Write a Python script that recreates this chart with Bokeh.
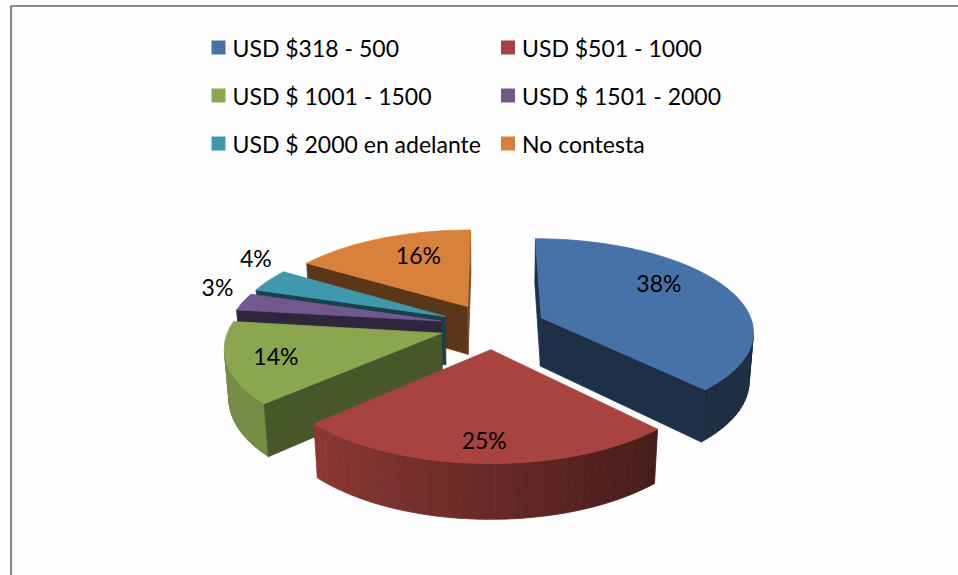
import numpy as np
from bokeh.plotting import figure
from bokeh.models import Range1d, ColumnDataSource
from bokeh.embed import file_html
from bokeh.resources import INLINE
from bokeh.core.properties import value

# ---------------- data ----------------
categories = ["USD $318 - 500", "USD $501 - 1000", "USD $ 1001 - 1500",
              "USD $ 1501 - 2000", "USD $ 2000 en adelante", "No contesta"]
percent = [38, 25, 14, 3, 4, 16]
colors = ["#4672A8", "#A8433F", "#8AA64F", "#71598F", "#3F98AE", "#D8813A"]

# ---------------- page / projection settings ----------------
W, H = 958, 575
CX, CY = 492.0, 325.5          # screen position of pie centre
SCALE = 212.0                  # pixels per pie radius
SIN_T, COS_T = 0.432, 0.902    # view elevation
PERSP = 0.1486                 # perspective strength (1/camera distance)
EXPLODE = 0.25                 # explosion distance (radius units)
DEPTH = 0.26                   # pie thickness (radius units)
CAM = np.array([0.0, -COS_T / PERSP, SIN_T / PERSP])
FONT = "Lato"


def project(X, Y, Z):
    X = np.asarray(X, float)
    Y = np.asarray(Y, float)
    Z = np.asarray(Z, float)
    w = 1.0 + (Y * COS_T - Z * SIN_T) * PERSP
    return CX + SCALE * X / w, CY - SCALE * (Y * SIN_T + Z * COS_T) / w


def shade(hexcol, f):
    h = hexcol.lstrip("#")
    r, g, b = (int(h[i:i + 2], 16) for i in (0, 2, 4))
    return "#%02x%02x%02x" % tuple(int(max(0, min(255, round(c * f)))) for c in (r, g, b))


def wall_factor(deg):
    return float(np.interp(deg % 360, [0, 135, 228, 360], [0.37, 0.40, 0.84, 0.88]))


def cut_factor(nx):
    return 0.42 + 0.15 * max(0.0, nx)


total = float(sum(percent))
bounds = np.concatenate([[0.0], np.cumsum(percent) / total]) * 2 * np.pi

slices = []
for i, pct in enumerate(percent):
    t1, t2 = bounds[i], bounds[i + 1]
    tm = 0.5 * (t1 + t2)
    ox, oy = EXPLODE * np.sin(tm), EXPLODE * np.cos(tm)
    nseg = max(4, int(np.degrees(t2 - t1) / 2))
    ths = np.linspace(t1, t2, nseg + 1)
    rx, ry = ox + np.sin(ths), oy + np.cos(ths)
    tx, ty = project(rx, ry, np.zeros_like(rx))
    bx, by = project(rx, ry, np.full_like(rx, -DEPTH))
    ax_t, ay_t = project(ox, oy, 0.0)
    ax_b, ay_b = project(ox, oy, -DEPTH)
    faces = []
    # outer curved wall (front-facing parts only)
    for j in range(nseg):
        thm = 0.5 * (ths[j] + ths[j + 1])
        nx, ny = np.sin(thm), np.cos(thm)
        px, py = ox + nx, oy + ny
        if nx * (CAM[0] - px) + ny * (CAM[1] - py) > 0:
            faces.append(([tx[j], tx[j + 1], bx[j + 1], bx[j]],
                          [ty[j], ty[j + 1], by[j + 1], by[j]],
                          shade(colors[i], wall_factor(np.degrees(thm)))))
    # radial cut faces
    for (n, k) in (((-np.cos(t1), np.sin(t1)), 0), ((np.cos(t2), -np.sin(t2)), -1)):
        if n[0] * (CAM[0] - ox) + n[1] * (CAM[1] - oy) > 0:
            faces.append(([float(ax_t), tx[k], bx[k], float(ax_b)],
                          [float(ay_t), ty[k], by[k], float(ay_b)],
                          shade(colors[i], cut_factor(n[0]))))
    # top face
    faces.append(([float(ax_t)] + list(tx), [float(ay_t)] + list(ty), colors[i]))
    depth_key = oy + 0.5 * np.cos(tm)
    slices.append((depth_key, faces))

xs, ys, fc = [], [], []
for _, faces in sorted(slices, key=lambda s: -s[0]):
    for fx, fy, c in faces:
        xs.append([float(v) for v in fx])
        ys.append([float(v) for v in fy])
        fc.append(c)

# ---------------- figure ----------------
p = figure(width=W, height=H, output_backend="svg", toolbar_location=None,
           x_range=Range1d(0, W), y_range=Range1d(H, 0),
           x_axis_type=None, y_axis_type=None, min_border=0,
           background_fill_color="#fefefe", border_fill_color="white")
p.grid.visible = False
p.outline_line_color = None

# frame lines of the original chart area
p.segment(x0=[10.5, 10], y0=[5.5, 5.5], x1=[10.5, W], y1=[H, 5.5],
          line_color="#8c8c8c", line_width=2.2)

p.patches(xs="xs", ys="ys", fill_color="fc", line_color="fc", line_width=0.8,
          source=ColumnDataSource(dict(xs=xs, ys=ys, fc=fc)))

# ---------------- data labels ----------------
in_x, in_y, in_t, out_x, out_y, out_t = [], [], [], [], [], []
for i, pct in enumerate(percent):
    t1, t2 = bounds[i], bounds[i + 1]
    tm = 0.5 * (t1 + t2)
    ox, oy = EXPLODE * np.sin(tm), EXPLODE * np.cos(tm)
    shift = np.radians(13) * np.sin(tm) * (1.0 if np.cos(tm) > 0.3 else 0.0)
    if pct < 5:
        tl = tm - 0.45 * shift
        x, y = project(ox + 1.05 * np.sin(tl), oy + 1.05 * np.cos(tl), 0.0)
        out_x.append(float(x)); out_y.append(float(y)); out_t.append("%d%%" % pct)
    else:
        tl = tm - shift
        r = 0.76 - 0.06 * np.cos(tl)
        x, y = project(ox + r * np.sin(tl), oy + r * np.cos(tl), 0.0)
        in_x.append(float(x)); in_y.append(float(y)); in_t.append("%d%%" % pct)
p.text(x=in_x, y=in_y, text=in_t, text_font=value(FONT), text_font_size="23px",
       text_align="center", text_baseline="middle", text_color="#000000")
p.text(x=out_x, y=out_y, text=out_t, text_font=value(FONT), text_font_size="23px",
       text_align="right", text_baseline="bottom", text_color="#000000")

# ---------------- legend ----------------
LEG_X = [218.0, 507.5]
LEG_Y0, LEG_DY = 47.0, 48.0
sq_x = [LEG_X[i % 2] for i in range(len(categories))]
sq_y = [LEG_Y0 + (i // 2) * LEG_DY for i in range(len(categories))]
p.rect(x=sq_x, y=sq_y, width=14, height=14, fill_color=colors, line_color=None)
p.text(x=[v + 14 for v in sq_x], y=sq_y, text=categories, text_font=value(FONT),
       text_font_size="23px", text_align="left", text_baseline="middle",
       text_color="#000000")

open("out.html", "w").write(file_html(p, INLINE))
